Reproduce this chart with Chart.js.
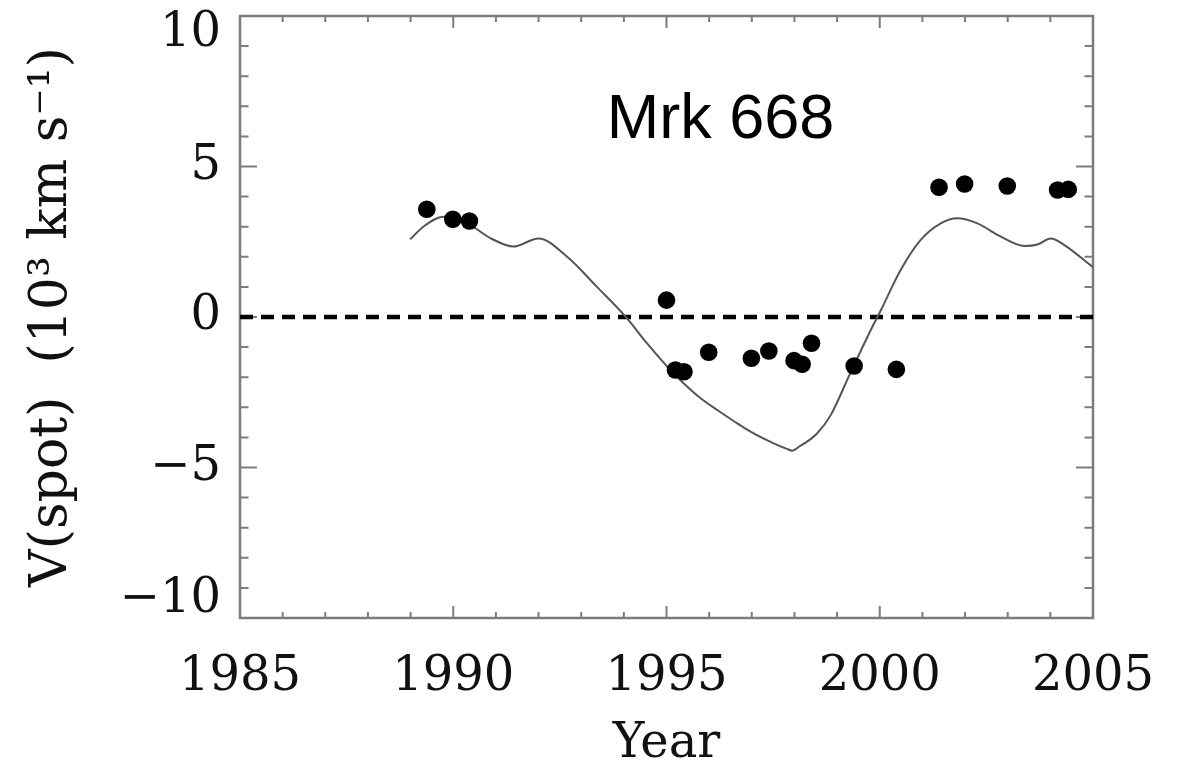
<!DOCTYPE html>
<html>
<head>
<meta charset="utf-8">
<script src="https://cdn.jsdelivr.net/npm/chart.js@4"></script>
<style>
  html, body { margin: 0; padding: 0; background: #ffffff; }
  canvas { display: block; }
</style>
</head>
<body>
<canvas id="c" width="1184" height="763"></canvas>
<script>
// Measured spot velocities (year, 10^3 km/s)
const spotYears  = [1989.38, 1989.99, 1990.38, 1995.00, 1995.21, 1995.41, 1995.99, 1996.99, 1997.40,
                    1997.99, 1998.18, 1998.40, 1999.40, 2000.39, 2001.39, 2001.99, 2002.99, 2004.17, 2004.42];
const spotValues = [3.58, 3.25, 3.19, 0.56, -1.76, -1.82, -1.17, -1.37, -1.13,
                    -1.45, -1.57, -0.87, -1.63, -1.74, 4.31, 4.42, 4.35, 4.22, 4.24];

// Model velocity curve
const curveYears  = [1988.99, 1989.30, 1989.77, 1990.38, 1990.90, 1991.41, 1992.00, 1992.67, 1993.37,
                     1994.04, 1994.54, 1995.09, 1995.40, 1995.80, 1996.19, 1996.60, 1996.97, 1997.50,
                     1997.82, 1997.95, 1998.10, 1998.53, 1998.85, 1999.32, 1999.79, 2000.00, 2000.49,
                     2000.96, 2001.43, 2001.82, 2002.29, 2002.84, 2003.39, 2003.70, 2004.01, 2004.33,
                     2005.00];
const curveValues = [2.58, 3.00, 3.33, 3.06, 2.60, 2.34, 2.61, 2.00, 1.00,
                     0.01, -0.87, -1.76, -2.20, -2.70, -3.09, -3.48, -3.81, -4.19,
                     -4.38, -4.44, -4.32, -3.87, -3.26, -1.83, -0.43, 0.15, 1.56,
                     2.56, 3.11, 3.28, 3.11, 2.67, 2.36, 2.41, 2.61, 2.39,
                     1.65];

// Zero-velocity reference line
const zeroYears  = [1985, 2005];
const zeroValues = [0, 0];

// Axis tick values and their labels
const xTickValues = [1985, 1990, 1995, 2000, 2005];
const xTickLabels = ['1985', '1990', '1995', '2000', '2005'];
const yTickValues = [-10, -5, 0, 5, 10];
const yTickLabels = ['\u221210', '\u22125', '0', '5', '10'];

const toPoints = (xs, ys) => xs.map((v, i) => ({ x: v, y: ys[i] }));
const SERIF = "'DejaVu Serif', 'Liberation Serif', serif";

// Boxed frame with inward major/minor ticks on all four sides, plus the object name
const framePlugin = {
  id: 'frame',
  beforeDatasetsDraw(chart) {
    const { ctx, chartArea: a, scales: { x, y } } = chart;
    ctx.save();
    ctx.strokeStyle = '#7c7c7c';
    ctx.lineWidth = 2.5;
    ctx.strokeRect(a.left, a.top, a.right - a.left, a.bottom - a.top);
    ctx.lineWidth = 2;
    ctx.beginPath();
    for (let yr = x.min; yr <= x.max; yr++) {
      const px = x.getPixelForValue(yr);
      const len = yr % 5 === 0 ? 12 : 6;
      ctx.moveTo(px, a.bottom); ctx.lineTo(px, a.bottom - len);
      ctx.moveTo(px, a.top);    ctx.lineTo(px, a.top + len);
    }
    for (let v = y.min; v <= y.max; v++) {
      const py = y.getPixelForValue(v);
      const len = v % 5 === 0 ? 17 : 8.5;
      ctx.moveTo(a.left, py);  ctx.lineTo(a.left + len, py);
      ctx.moveTo(a.right, py); ctx.lineTo(a.right - len, py);
    }
    ctx.stroke();
    ctx.restore();
  },
  afterDatasetsDraw(chart) {
    const { ctx, scales: { x, y } } = chart;
    ctx.save();
    ctx.fillStyle = '#000000';
    ctx.font = "63px 'Liberation Sans', Arial, sans-serif";
    ctx.textAlign = 'left';
    ctx.textBaseline = 'alphabetic';
    ctx.fillText('Mrk 668', x.getPixelForValue(1993.6), y.getPixelForValue(5.95));
    ctx.restore();
  }
};

new Chart(document.getElementById('c'), {
  type: 'scatter',
  data: {
    datasets: [
      {
        label: 'V(spot)',
        data: toPoints(spotYears, spotValues),
        backgroundColor: '#000000',
        borderColor: '#000000',
        pointRadius: 8.8,
        pointBorderWidth: 0,
        showLine: false
      },
      {
        label: 'model',
        data: toPoints(curveYears, curveValues),
        showLine: true,
        borderColor: '#555555',
        borderWidth: 2,
        pointRadius: 0,
        cubicInterpolationMode: 'monotone',
        fill: false
      },
      {
        label: 'zero',
        data: toPoints(zeroYears, zeroValues),
        showLine: true,
        borderColor: '#000000',
        borderWidth: 4.5,
        borderDash: [13, 8],
        pointRadius: 0,
        fill: false
      }
    ]
  },
  options: {
    responsive: false,
    devicePixelRatio: 1,
    animation: false,
    events: [],
    layout: { padding: { left: 0, top: 16, right: 91, bottom: 0 } },
    plugins: { legend: { display: false }, tooltip: { enabled: false } },
    scales: {
      x: {
        type: 'linear',
        min: 1985,
        max: 2005,
        grid: { display: false, drawTicks: false },
        border: { display: false },
        afterBuildTicks(scale) { scale.ticks = xTickValues.map(v => ({ value: v })); },
        afterFit(scale) {
          scale.height = 145;
          scale.paddingLeft = 0;
          scale.paddingRight = 0;
        },
        ticks: {
          autoSkip: false,
          maxRotation: 0,
          padding: 31,
          color: '#111111',
          font: { family: SERIF, size: 48 },
          callback: (value) => xTickLabels[xTickValues.indexOf(value)]
        },
        title: {
          display: true,
          text: 'Year',
          color: '#111111',
          font: { family: SERIF, size: 48, lineHeight: 1 },
          padding: { top: 0, bottom: -6 }
        }
      },
      y: {
        type: 'linear',
        min: -10,
        max: 10,
        grid: { display: false, drawTicks: false },
        border: { display: false },
        afterBuildTicks(scale) { scale.ticks = yTickValues.map(v => ({ value: v })); },
        afterFit(scale) {
          scale.width = 240;
          scale.paddingTop = 0;
          scale.paddingBottom = 0;
        },
        ticks: {
          autoSkip: false,
          padding: 19,
          color: '#111111',
          // the end labels sit inside the frame: pad them with an empty line
          font: (c) => ({
            family: SERIF,
            size: 48,
            lineHeight: c.tick && Math.abs(c.tick.value) === 10 ? '36px' : 1.2
          }),
          callback: (value) => {
            const label = yTickLabels[yTickValues.indexOf(value)];
            if (value === 10) return ['', label];
            if (value === -10) return [label, ''];
            return label;
          }
        },
        title: {
          display: true,
          text: 'V(spot)  (10\u00B3 km s\u207B\u00B9)',
          color: '#111111',
          font: { family: SERIF, size: 52, lineHeight: 1 },
          padding: { top: 26, bottom: 0 }
        }
      }
    }
  },
  plugins: [framePlugin]
});
</script>
</body>
</html>
